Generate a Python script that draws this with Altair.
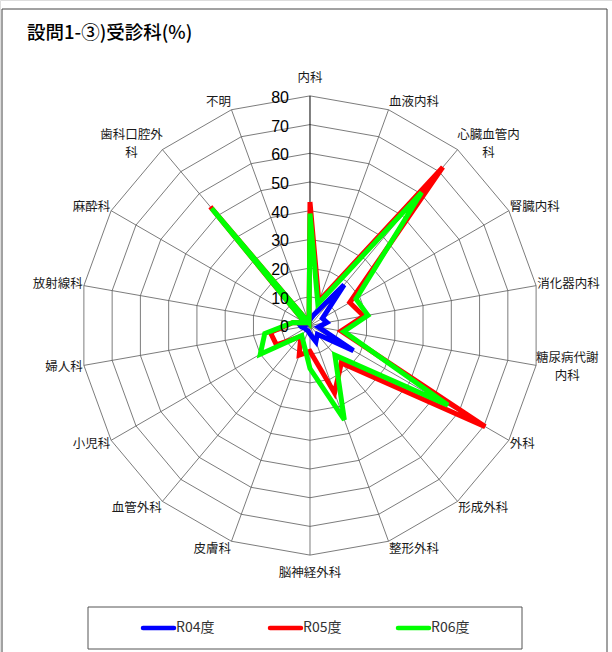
import altair as alt
import pandas as pd

# ---- data ----
categories = ["内科", "血液内科", "心臓血管内科", "腎臓内科", "消化器内科", "糖尿病代謝内科",
              "外科", "形成外科", "整形外科", "脳神経外科", "皮膚科", "血管外科",
              "小児科", "婦人科", "放射線科", "麻酔科", "歯科口腔外科", "不明"]
cat_labels = ["内科", "血液内科", "心臓血管内\n科", "腎臓内科", "消化器内科", "糖尿病代謝\n内科",
              "外科", "形成外科", "整形外科", "脳神経外科", "皮膚科", "血管外科",
              "小児科", "婦人科", "放射線科", "麻酔科", "歯科口腔外\n科", "不明"]
r04 = [2, 4, 18.5, 5, 6, 3, 17.5, 4, 6, 3, 2, 2, 2, 3, 4, 1, 1, 1]
r05 = [43, 9, 72, 16, 19, 11, 70.5, 17, 25, 9, 11, 5, 13.5, 14, 6, 2, 54, 1]
r06 = [39, 8, 60.5, 18.5, 20.5, 12, 55.5, 13.5, 35, 15, 6.5, 4.5, 20, 16, 6, 2, 53.3, 1]
series_names = ["R04度", "R05度", "R06度"]
series_colors = ["#0000FF", "#FF0000", "#00FF00"]
ticks = [0, 10, 20, 30, 40, 50, 60, 70, 80]
title_text = "設問1-③)受診科(%)"

N = len(categories)
rows = []
for name, vals in zip(series_names, [r04, r05, r06]):
    for k in range(N + 1):
        rows.append({"series": name, "idx": k, "value": vals[k % N]})
series_df = pd.DataFrame(rows)
ring_df = pd.DataFrame([{"level": t, "idx": k} for t in ticks[1:] for k in range(N + 1)])
spoke_df = pd.DataFrame({"idx": list(range(N)), "level": [ticks[-1]] * N})
label_df = pd.DataFrame({"idx": list(range(N)), "lab": cat_labels})
tick_df = pd.DataFrame({"tick": ticks, "txt": [str(t) for t in ticks]})
one = pd.DataFrame({"a": [0]})

# ---- scales (2.87 px per unit, centre at 310,325.5) ----
xs = alt.Scale(domain=[-108.01, 105.23], nice=False, zero=False)
ys = alt.Scale(domain=[-113.76, 113.41], nice=False, zero=False)


def X(f):
    return alt.X(f"{f}:Q", scale=xs, axis=None)


def Y(f):
    return alt.Y(f"{f}:Q", scale=ys, axis=None)


ang = f"2*PI*datum.idx/{N}"
JP = "Noto Sans CJK JP"
GRID = "#5a5a5a"

frame = alt.Chart(one).mark_rect(fillOpacity=0, stroke="#444444", strokeWidth=1).encode(
    x=alt.value(2), x2=alt.value(607), y=alt.value(9), y2=alt.value(700))

title = alt.Chart(one).mark_text(align="left", baseline="middle", fontSize=18.5, font=JP,
                                 fontWeight=500, color="#000000").encode(
    x=alt.value(27), y=alt.value(33), text=alt.value(title_text))

rings = alt.Chart(ring_df).transform_calculate(
    px=f"datum.level*sin({ang})", py=f"datum.level*cos({ang})"
).mark_line(color=GRID, strokeWidth=0.8).encode(
    x=X("px"), y=Y("py"), detail="level:N", order="idx:Q")

spokes_base = alt.Chart(spoke_df).transform_calculate(
    px=f"datum.level*sin({ang})", py=f"datum.level*cos({ang})", z="0")
spokes = spokes_base.transform_filter("datum.idx > 0").mark_rule(color=GRID, strokeWidth=0.8).encode(
    x=X("z"), y=Y("z"), x2=alt.X2("px:Q"), y2=alt.Y2("py:Q"))
axis_line = spokes_base.transform_filter("datum.idx == 0").mark_rule(color="#000000", strokeWidth=1).encode(
    x=X("z"), y=Y("z"), x2=alt.X2("px:Q"), y2=alt.Y2("py:Q"))

tick_labels = alt.Chart(tick_df).mark_text(align="right", baseline="middle", fontSize=16,
                                           font="Liberation Sans", color="#000000", dy=2).encode(
    x=alt.value(289), y=Y("tick"), text="txt:N")

lines = alt.Chart(series_df).transform_calculate(
    px=f"datum.value*sin({ang})", py=f"datum.value*cos({ang})"
).mark_line(strokeWidth=5).encode(
    x=X("px"), y=Y("py"), order="idx:Q",
    color=alt.Color("series:N", scale=alt.Scale(domain=series_names, range=series_colors), legend=None))

lab_base = alt.Chart(label_df).transform_calculate(
    s=f"sin({ang})", c=f"cos({ang})",
    multi="indexof(datum.lab, '\\n') >= 0",
).transform_calculate(
    lx="80.4*datum.s + (datum.multi ? (datum.s > 0 ? 10.5 : -10.5) : 0)",
    ly="(abs(datum.s) < 0.1 ? 86.2*datum.c : (80 + 2.8)*datum.c) + (datum.multi ? 3.1 : 0)",
)
lab_kw = dict(baseline="middle", fontSize=12.5, font=JP, color="#1a1a1a", lineBreak="\n", lineHeight=18)
lab_left = lab_base.transform_filter("datum.s > 0.1 && !datum.multi").mark_text(align="left", **lab_kw).encode(
    x=X("lx"), y=Y("ly"), text="lab:N")
lab_right = lab_base.transform_filter("datum.s < -0.1 && !datum.multi").mark_text(align="right", **lab_kw).encode(
    x=X("lx"), y=Y("ly"), text="lab:N")
lab_center = lab_base.transform_filter("abs(datum.s) <= 0.1 || datum.multi").mark_text(align="center", **lab_kw).encode(
    x=X("lx"), y=Y("ly"), text="lab:N")

# ---- legend box ----
legend_box = alt.Chart(one).mark_rect(fill="white", stroke="#555555", strokeWidth=1).encode(
    x=alt.value(88), x2=alt.value(522), y=alt.value(607), y2=alt.value(649))
legend_layers = []
leg_x = [143, 270, 398]
for name, col, lx in zip(series_names, series_colors, leg_x):
    legend_layers.append(alt.Chart(one).mark_rule(color=col, strokeWidth=4.5, strokeCap="round").encode(
        x=alt.value(lx), x2=alt.value(lx + 31), y=alt.value(628)))
    legend_layers.append(alt.Chart(one).mark_text(align="left", baseline="middle", fontSize=14, font=JP,
                                                  color="#333333").encode(
        x=alt.value(lx + 33), y=alt.value(628), text=alt.value(name)))

chart = alt.layer(
    frame, title, rings, spokes, axis_line, lines, tick_labels, lab_left, lab_right, lab_center,
    legend_box, *legend_layers
).properties(
    width=612, height=652, padding=0, autosize=alt.AutoSizeParams(type="none")
).configure_view(strokeWidth=0).configure(background="white")

chart.save("out.html", embed_options={"renderer": "svg", "actions": False})
